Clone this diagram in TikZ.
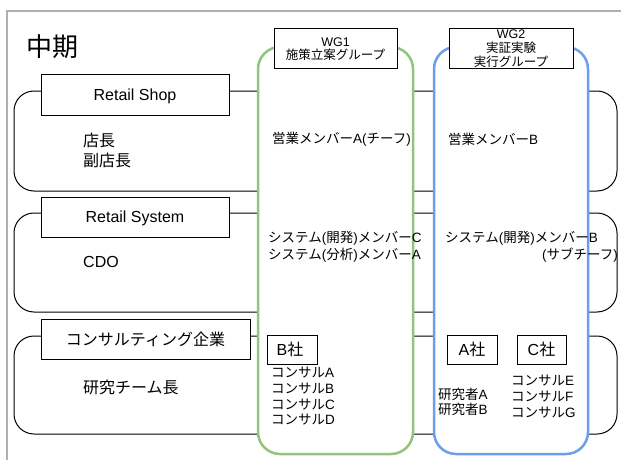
\documentclass[tikz,border=0pt]{standalone}
\usepackage{fontspec}
\setmainfont{Liberation Sans}
\newfontfamily\cjk{Noto Sans CJK JP}
\newcommand\J[1]{{\cjk #1}}
\definecolor{wgone}{HTML}{93C47D}
\definecolor{wgtwo}{HTML}{6D9EEB}
\definecolor{framegray}{HTML}{B0B0B0}
\begin{document}
\begin{tikzpicture}[x=1pt,y=-1pt,
  rowline/.style={draw=black, line width=1pt, rounded corners=20pt},
  wgbox/.style={line width=2.5pt, fill=white, rounded corners=22pt},
  lbox/.style={draw=black, line width=1pt, fill=white, inner sep=0pt, align=center},
  big/.style={font=\fontsize{16}{20}\selectfont},
  small/.style={font=\fontsize{13.5}{16}\selectfont},
  wgfont/.style={font=\fontsize{12.5}{13.5}\selectfont},
  txt/.style={inner sep=0pt, anchor=west, align=left}]
\useasboundingbox (0,0) rectangle (621,460);
\fill[white] (0,0) rectangle (621,460);
% outer frame
\draw[framegray, line width=1.5pt] (621,11) -- (7,11) -- (7,460);
% rows
\draw[rowline] (14,91) rectangle (617,191);
\draw[rowline] (14,213) rectangle (617,312);
\draw[rowline] (14,336) rectangle (617,434);
% working groups
\draw[wgbox, draw=wgone] (258,47) rectangle (413,454);
\draw[wgbox, draw=wgtwo] (434,47) rectangle (588,454);
% title
\node[txt, font=\cjk\fontsize{26}{30}\selectfont] (title) at (26,46.5) {中期};
% row label boxes
\node[lbox, big, text depth=0pt, minimum width=188pt, minimum height=40pt] (shop) at (135,95) {Retail Shop};
\node[lbox, big, text depth=0pt, minimum width=188pt, minimum height=40pt] (system) at (135,217) {Retail System};
\node[lbox, big, minimum width=209pt, minimum height=40pt] (consult) at (145.5,339) {\J{コンサルティング企業}};
% WG label boxes
\node[lbox, wgfont, minimum width=123pt, minimum height=40pt] (wg1) at (335.5,49) {WG1\\\J{施策立案グループ}};
\node[lbox, font=\fontsize{12.5}{14}\selectfont, minimum width=124pt, minimum height=40pt] (wg2) at (511,49) {WG2\\\J{実証実験}\\\J{実行グループ}};
% company boxes
\node[lbox, big, minimum width=50pt, minimum height=29pt] (bsha) at (292,349.5) {\hspace*{-4pt}\raisebox{-5.5pt}{B\J{社}}};
\node[lbox, big, minimum width=50pt, minimum height=29pt] (asha) at (472,349.5) {\raisebox{-6pt}{A\J{社}}};
\node[lbox, big, minimum width=49pt, minimum height=29pt] (csha) at (541.5,349.5) {\raisebox{-6pt}{C\J{社}}};
% row texts
\node[txt, big] (shopmem) at (83,150) {\J{店長}\\\J{副店長}};
\node[txt, big] (cdo) at (83,262) {CDO};
\node[txt, big] (lead) at (83,387) {\J{研究チーム長}};
% WG1 texts
\node[txt, small] (salesA) at (272,139) {\J{営業メンバー}A(\J{チーフ})};
\node[txt, font=\fontsize{13.5}{17}\selectfont] (sysA) at (268,246.5) {\J{システム}(\J{開発})\J{メンバー}C\\\J{システム}(\J{分析})\J{メンバー}A};
\node[txt, font=\fontsize{13.5}{15.7}\selectfont] (consA) at (271,396.5) {\J{コンサル}A\\\J{コンサル}B\\\J{コンサル}C\\\J{コンサル}D};
% WG2 texts
\node[txt, small] (salesB) at (448,139) {\J{営業メンバー}B};
\node[txt, small] (sysB) at (445,238) {\J{システム}(\J{開発})\J{メンバー}B};
\node[txt, small] (subchief) at (542,255) {(\J{サブチーフ})};
\node[txt, font=\fontsize{13.5}{15}\selectfont] (res) at (438,401.5) {\J{研究者}A\\\J{研究者}B};
\node[txt, font=\fontsize{13.5}{16}\selectfont] (consE) at (511,397) {\J{コンサル}E\\\J{コンサル}F\\\J{コンサル}G};
\end{tikzpicture}
\end{document}
